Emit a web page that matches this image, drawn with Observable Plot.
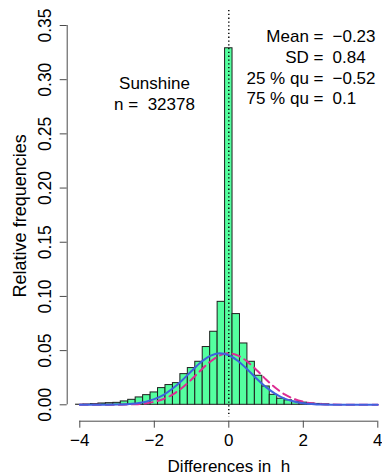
<!DOCTYPE html>
<html>
<head>
<meta charset="utf-8">
<script src="https://cdn.jsdelivr.net/npm/d3@7"></script>
<script src="https://cdn.jsdelivr.net/npm/@observablehq/plot@0.6"></script>
<style>
  html, body { margin: 0; padding: 0; background: #fff; }
  svg text { white-space: pre; }
</style>
</head>
<body>
<div id="chart"></div>
<script>
// ---- data ----
const binWidth = 0.2;
const binMids = [-4.2, -4.0, -3.8, -3.6, -3.4, -3.2, -3.0, -2.8, -2.6, -2.4, -2.2, -2.0, -1.8, -1.6, -1.4, -1.2, -1.0, -0.8, -0.6, -0.4, -0.2,
                 0.0, 0.2, 0.4, 0.6, 0.8, 1.0, 1.2, 1.4, 1.6, 1.8, 2.0, 2.2, 2.4, 2.6, 2.8];
const relFreq = [0.0000, 0.0001, 0.0003, 0.0006, 0.0012, 0.0015, 0.0018, 0.0031, 0.0046, 0.0068, 0.0089, 0.0114, 0.0154, 0.0182, 0.0200, 0.0283, 0.0339, 0.0397, 0.0533, 0.0674, 0.0950,
                 0.3290, 0.0837, 0.0566, 0.0397, 0.0268, 0.0169, 0.0092, 0.0056, 0.0041, 0.0028, 0.0020, 0.0012, 0.0008, 0.0004, 0.0000];

const curveX = [-4, -3.5, -3, -2.5, -2, -1.75, -1.5, -1.25, -1, -0.75, -0.5, -0.25, 0, 0.25, 0.5, 0.75, 1, 1.25, 1.5, 1.75, 2, 2.5, 3, 3.5, 4];
const blueCurve = [0.0000, 0.0000, 0.0002, 0.0012, 0.0052, 0.0092, 0.0152, 0.0227, 0.0312, 0.0392, 0.0451, 0.0475, 0.0457, 0.0404, 0.0326, 0.0240, 0.0163, 0.0101, 0.0057, 0.0030, 0.0014, 0.0002, 0.0000, 0.0000, 0.0000];
const pinkCurve = [0.0000, 0.0000, 0.0001, 0.0006, 0.0028, 0.0054, 0.0096, 0.0157, 0.0234, 0.0319, 0.0398, 0.0454, 0.0475, 0.0454, 0.0398, 0.0319, 0.0234, 0.0157, 0.0096, 0.0054, 0.0028, 0.0006, 0.0001, 0.0000, 0.0000];

const xTicks = [-4, -2, 0, 2, 4];
const yTicks = [0, 0.05, 0.10, 0.15, 0.20, 0.25, 0.30, 0.35];
const statLabels = ["Mean =", "SD =", "25 % qu =", "75 % qu ="];
const statValues = ["\u22120.23", "0.84", "\u22120.52", "0.1"];
const stationName = "Sunshine";
const nObs = "32378";
const xTitle = "Differences in  h";
const yTitle = "Relative frequencies";

// ---- tables built from the arrays ----
const bins = binMids.map((m, i) => ({x1: m - binWidth / 2, x2: m + binWidth / 2, y: relFreq[i]}));
const blue = curveX.map((x, i) => ({x, y: blueCurve[i]}));
const pink = curveX.map((x, i) => ({x, y: pinkCurve[i]}));

const axisColor = "#4a4a4a";
const fontFamily = "'Liberation Sans', Arial, Helvetica, sans-serif";

const chart = Plot.plot({
  width: 382,
  height: 476,
  marginLeft: 66.7,
  marginRight: 0,
  marginTop: 10,
  marginBottom: 55.3,
  x: {domain: [xTicks[0], xTicks[xTicks.length - 1]], range: [79.3, 377.3]},
  y: {domain: [yTicks[0], yTicks[yTicks.length - 1]], range: [404.3, 25]},
  style: {fontFamily, fontSize: "17px", color: "black", background: "white", overflow: "hidden"},
  marks: [
    Plot.rectY(bins, {x1: "x1", x2: "x2", y: "y", fill: "#54FF9F", stroke: "#1e1e1e", strokeWidth: 1}),
    Plot.line(pink, {x: "x", y: "y", stroke: "#DD2C93", strokeWidth: 2, strokeDasharray: "8,5", curve: "monotone-x"}),
    Plot.line(blue, {x: "x", y: "y", stroke: "#3F62DE", strokeWidth: 2, curve: "monotone-x"}),
    Plot.ruleX([0], {stroke: "black", strokeWidth: 1.4, strokeDasharray: "1.3,2.5", insetBottom: 4}),
    // x axis (R style: line spans first to last tick)
    Plot.ruleY([yTicks[0]], {x1: xTicks[0], x2: xTicks[xTicks.length - 1], dy: 16.4, stroke: axisColor, strokeWidth: 1}),
    Plot.axisX({ticks: xTicks, tickSize: 7, tickPadding: 6, stroke: axisColor, fill: "black", label: null, fontSize: 17}),
    // y axis
    Plot.ruleX([xTicks[0]], {y1: yTicks[0], y2: yTicks[yTicks.length - 1], dx: -12.6, stroke: axisColor, strokeWidth: 1}),
    Plot.axisY({ticks: yTicks, tickSize: 7, tickFormat: () => "", stroke: axisColor, label: null}),
    Plot.text(yTicks, {y: d => d, text: d => d3.format(".2f")(d), frameAnchor: "left", dx: -21.7, rotate: -90,
                       textAnchor: "middle", lineAnchor: "middle", fill: "black", fontSize: 17.5}),
    // titles
    Plot.text([yTitle], {text: d => d, frameAnchor: "left", dx: -46.7, rotate: -90, textAnchor: "middle", lineAnchor: "middle", fill: "black", fontSize: 18}),
    Plot.text([xTitle], {text: d => d, frameAnchor: "bottom", dx: 4, dy: 50.3, textAnchor: "middle", lineAnchor: "bottom", fill: "black", fontSize: 17}),
    // annotations
    Plot.text([statLabels.join("\n")], {text: d => d, frameAnchor: "top-left", dx: 256.3, dy: 16.7, textAnchor: "end", lineAnchor: "top", lineHeight: 1.224, fill: "black", fontSize: 17}),
    Plot.text([statValues.join("\n")], {text: d => d, frameAnchor: "top-left", dx: 265.3, dy: 16.7, textAnchor: "start", lineAnchor: "top", lineHeight: 1.224, fill: "black", fontSize: 17}),
    Plot.text([stationName + "\n" + "n =  " + nObs], {text: d => d, frameAnchor: "top-left", dx: 87.3, dy: 64, textAnchor: "middle", lineAnchor: "top", lineHeight: 1.224, fill: "black", fontSize: 17})
  ]
});
document.getElementById("chart").appendChild(chart);
</script>
</body>
</html>
